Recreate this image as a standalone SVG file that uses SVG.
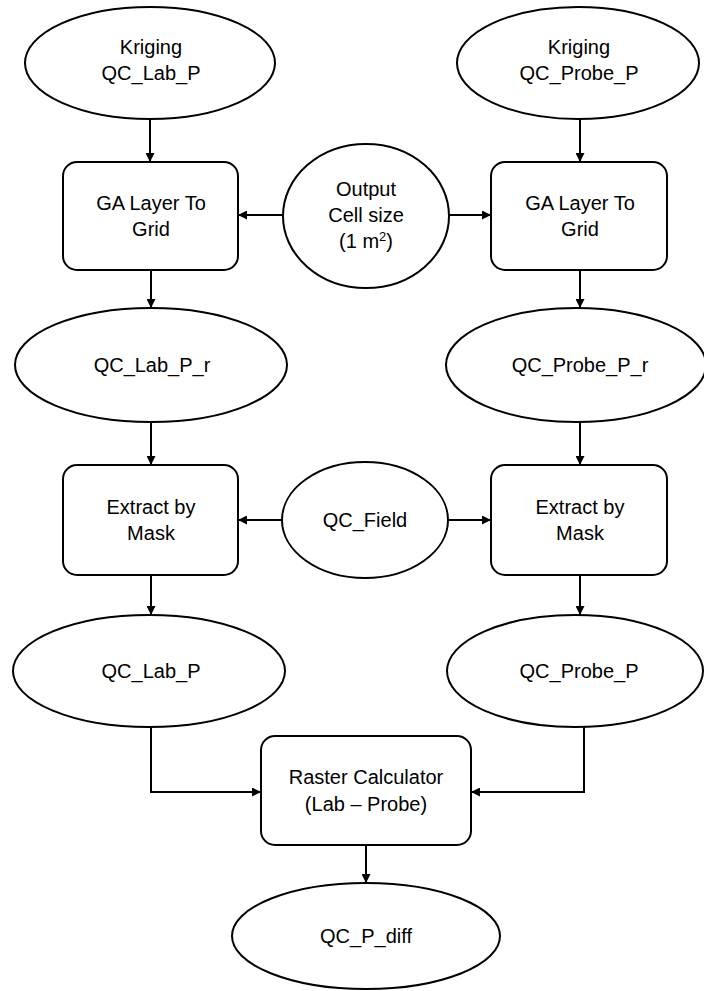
<svg xmlns="http://www.w3.org/2000/svg" width="704" height="991" viewBox="0 0 704 991">
<defs>
<marker id="ah" viewBox="0 0 10 10" refX="10" refY="5" markerWidth="9" markerHeight="9" markerUnits="userSpaceOnUse" orient="auto">
<path d="M0,0 L10,5 L0,10 z" fill="#000"/>
</marker>
<style>
.n{fill:#fff;stroke:#000;stroke-width:2}
.c{fill:none;stroke:#000;stroke-width:2;marker-end:url(#ah)}
text{font-family:"Liberation Sans",Arial,sans-serif;font-size:20px;fill:#000;text-anchor:middle}
</style>
</defs>
<rect width="704" height="991" fill="#fff"/>
<g id="connectors">
<path class="c" d="M150,120 L150,162"/>
<path class="c" d="M580,120 L580,162"/>
<path class="c" d="M283,215 L238,215"/>
<path class="c" d="M449,215 L491,215"/>
<path class="c" d="M151,270 L151,308"/>
<path class="c" d="M580,270 L580,308"/>
<path class="c" d="M151,422 L151,465"/>
<path class="c" d="M580,422 L580,465"/>
<path class="c" d="M282,520 L238,520"/>
<path class="c" d="M447,520 L491,520"/>
<path class="c" d="M151,575 L151,615"/>
<path class="c" d="M580,575 L580,615"/>
<path class="c" d="M151,727 L151,792 L261,792"/>
<path class="c" d="M584,727 L584,792 L471,792"/>
<path class="c" d="M366,845 L366,883"/>
</g>
<g id="kriging-lab">
<ellipse class="n" cx="150" cy="63" rx="125" ry="56"/>
<text x="151" y="54">Kriging</text>
<text x="151" y="80">QC_Lab_P</text>
</g>
<g id="kriging-probe">
<ellipse class="n" cx="578" cy="63" rx="121" ry="56"/>
<text x="579" y="54">Kriging</text>
<text x="579" y="80">QC_Probe_P</text>
</g>
<g id="ga-left">
<rect class="n" x="63" y="162" width="175" height="108" rx="14"/>
<text x="151" y="210">GA Layer To</text>
<text x="151" y="236">Grid</text>
</g>
<g id="ga-right">
<rect class="n" x="491" y="162" width="176" height="108" rx="14"/>
<text x="580" y="210">GA Layer To</text>
<text x="580" y="236">Grid</text>
</g>
<g id="output-cell">
<ellipse class="n" cx="366" cy="216" rx="83" ry="72"/>
<text x="366" y="196">Output</text>
<text x="366" y="222">Cell size</text>
<text x="366" y="248">(1 m<tspan font-size="13" dy="-7">2</tspan><tspan dy="7">)</tspan></text>
</g>
<g id="lab-r">
<ellipse class="n" cx="151" cy="365" rx="136" ry="57"/>
<text x="152" y="372">QC_Lab_P_r</text>
</g>
<g id="probe-r">
<ellipse class="n" cx="576" cy="365" rx="130" ry="57"/>
<text x="580" y="372">QC_Probe_P_r</text>
</g>
<g id="extract-left">
<rect class="n" x="63" y="465" width="175" height="110" rx="14"/>
<text x="151" y="514">Extract by</text>
<text x="151" y="540">Mask</text>
</g>
<g id="extract-right">
<rect class="n" x="491" y="465" width="176" height="110" rx="14"/>
<text x="580" y="514">Extract by</text>
<text x="580" y="540">Mask</text>
</g>
<g id="qc-field">
<ellipse class="n" cx="365" cy="520" rx="83" ry="58"/>
<text x="365" y="527">QC_Field</text>
</g>
<g id="lab-p">
<ellipse class="n" cx="149" cy="671" rx="136" ry="56"/>
<text x="151" y="678">QC_Lab_P</text>
</g>
<g id="probe-p">
<ellipse class="n" cx="575" cy="671" rx="128" ry="56"/>
<text x="579" y="678">QC_Probe_P</text>
</g>
<g id="raster-calc">
<rect class="n" x="261" y="736" width="210" height="109" rx="14"/>
<text x="366" y="784">Raster Calculator</text>
<text x="366" y="811">(Lab – Probe)</text>
</g>
<g id="qc-p-diff">
<ellipse class="n" cx="366" cy="936" rx="134" ry="53"/>
<text x="366" y="943">QC_P_diff</text>
</g>
</svg>
